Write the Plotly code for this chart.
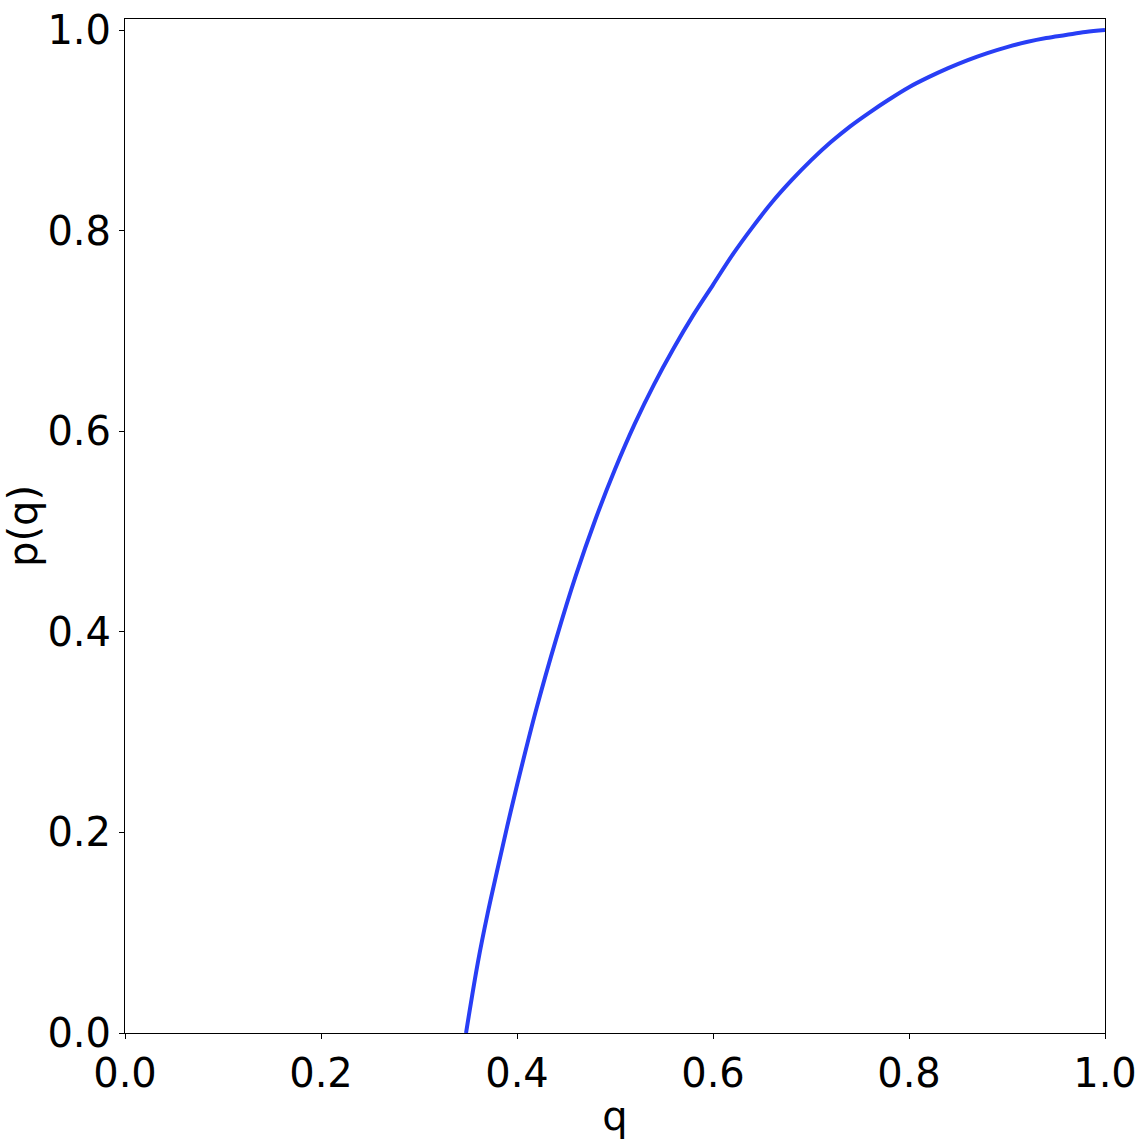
import plotly.graph_objects as go

q_vals = [0.348, 0.36, 0.37, 0.38, 0.39, 0.40, 0.42, 0.44, 0.46, 0.48, 0.50, 0.52, 0.54,
          0.56, 0.58, 0.60, 0.62, 0.64, 0.66, 0.68, 0.70, 0.72, 0.74, 0.76, 0.78, 0.80,
          0.82, 0.84, 0.86, 0.88, 0.90, 0.92, 0.94, 0.96, 0.98, 1.0]
p_vals = [0.0, 0.070, 0.119, 0.163, 0.206, 0.247, 0.324, 0.393, 0.456, 0.512, 0.562, 0.607, 0.647,
          0.683, 0.716, 0.746, 0.776, 0.803, 0.828, 0.850, 0.870, 0.888, 0.904, 0.918, 0.931, 0.943,
          0.953, 0.962, 0.970, 0.977, 0.983, 0.988, 0.992, 0.995, 0.998, 1.0]
x_ticks = [0.0, 0.2, 0.4, 0.6, 0.8, 1.0]
y_ticks = [0.0, 0.2, 0.4, 0.6, 0.8, 1.0]

fig = go.Figure()
fig.add_trace(go.Scatter(x=q_vals, y=p_vals, mode="lines",
                         line=dict(color="rgb(40,62,245)", width=4, shape="spline", smoothing=1.0),
                         showlegend=False))

axis_common = dict(showline=True, linecolor="black", linewidth=1, mirror=True,
                   ticks="outside", ticklen=5, tickcolor="black", tickwidth=1,
                   showgrid=False, zeroline=False, automargin=False,
                   ticklabeloverflow="allow",
                   tickfont=dict(family="DejaVu Sans", size=40, color="black"),
                   tickformat=".1f")

fig.update_layout(
    width=1140, height=1140,
    margin=dict(l=125, r=35, t=19, b=107),
    plot_bgcolor="white", paper_bgcolor="white",
    xaxis=dict(range=[0, 1], tickvals=x_ticks,
               title=dict(text="q", font=dict(family="DejaVu Sans", size=40, color="black"), standoff=6),
               **axis_common),
    yaxis=dict(range=[0, 1.011], tickvals=y_ticks,
               title=dict(text="p(q)", font=dict(family="DejaVu Sans", size=40, color="black"), standoff=16),
               **axis_common),
)

fig.write_html("out.html",
               config={"displayModeBar": False},
               post_script="document.body.style.margin='0';document.body.style.overflow='hidden';")
